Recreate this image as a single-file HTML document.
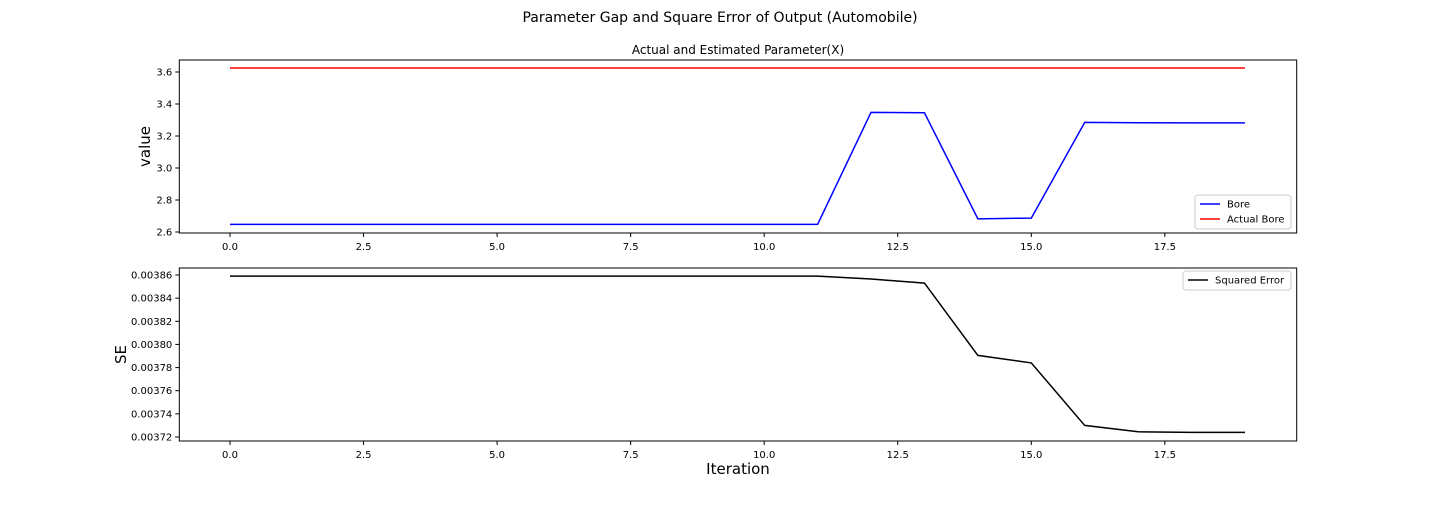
<!DOCTYPE html>
<html><head><meta charset="utf-8"><style>
body{margin:0;background:#fff;font-family:"Liberation Sans","DejaVu Sans",sans-serif}
svg text{font-family:"DejaVu Sans","Liberation Sans",sans-serif}
</style></head><body>
<svg id="chart" width="1440" height="504" xmlns="http://www.w3.org/2000/svg">
<rect width="1440" height="504" fill="#fff"/>
<text x="720" y="22" font-size="14" text-anchor="middle">Parameter Gap and Square Error of Output (Automobile)</text>
<text x="738" y="54" font-size="12" text-anchor="middle">Actual and Estimated Parameter(X)</text>
<g id="g1"></g><g id="g2"></g>
</svg>
<script>
const iterations=[0,1,2,3,4,5,6,7,8,9,10,11,12,13,14,15,16,17,18,19];
const bore=[2.648,2.648,2.648,2.648,2.648,2.648,2.648,2.648,2.648,2.648,2.648,2.648,3.348,3.345,2.682,2.687,3.285,3.283,3.282,3.282];
const actualBore=[3.625,3.625,3.625,3.625,3.625,3.625,3.625,3.625,3.625,3.625,3.625,3.625,3.625,3.625,3.625,3.625,3.625,3.625,3.625,3.625];
const squaredError=[0.003859,0.003859,0.003859,0.003859,0.003859,0.003859,0.003859,0.003859,0.003859,0.003859,0.003859,0.003859,0.0038565,0.003853,0.0037905,0.003784,0.003730,0.0037245,0.003724,0.003724];
const xTicks=[0,2.5,5,7.5,10,12.5,15,17.5];
const topYTicks=[2.6,2.8,3.0,3.2,3.4,3.6];
const botYTicks=[0.00372,0.00374,0.00376,0.00378,0.00380,0.00382,0.00384,0.00386];
const NS="http://www.w3.org/2000/svg";
function mk(p,t,a){const e=document.createElementNS(NS,t);for(const k in a)e.setAttribute(k,a[k]);p.appendChild(e);return e;}
const L=179.3,R=1296.7;
const xs=v=>230+v*53.42;
function panel(g,top,bot,y0v,y0p,y1v,y1p,yt,fmt,ylabel,series,legend,lx,ly,lw,xlabel,pfx){
  const ys=v=>y0p+(v-y0v)*(y1p-y0p)/(y1v-y0v);
  const fr=mk(g,'rect',{x:L,y:top,width:R-L,height:bot-top,fill:'none',stroke:'#000','stroke-width':1});
  
  
  xTicks.forEach(t=>{const x=xs(t);mk(g,'line',{x1:x,x2:x,y1:bot,y2:bot+4,stroke:'#000'});
    const tx=mk(g,'text',{x:x,y:bot+17,'font-size':10,'text-anchor':'middle'});tx.textContent=t.toFixed(1);
    
    });
  yt.forEach(t=>{const y=ys(t);mk(g,'line',{x1:L-4,x2:L,y1:y,y2:y,stroke:'#000'});
    const tx=mk(g,'text',{x:L-7,y:y+3.5,'font-size':10,'text-anchor':'end'});tx.textContent=fmt(t);
    
    });
  const yl=mk(g,'text',{x:0,y:0,'font-size':15,'text-anchor':'middle',transform:`translate(${pfx==='top'?150:126},${(top+bot)/2}) rotate(-90)`});yl.textContent=ylabel;
  
  
  if(xlabel){const xl=mk(g,'text',{x:738,y:474,'font-size':15,'text-anchor':'middle'});xl.textContent=xlabel;
    
    }
  series.forEach(s=>{const pl=mk(g,'polyline',{points:s.d.map((v,i)=>xs(iterations[i])+','+ys(v)).join(' '),fill:'none',stroke:s.c,'stroke-width':1.5});
    
    });
  const lg=mk(g,'rect',{x:lx,y:ly,width:lw,height:legend.length*15+4,fill:'#fff',stroke:'#ccc',rx:3});
  
  
  legend.forEach((e,i)=>{const y=ly+9+i*15;mk(g,'line',{x1:lx+5,x2:lx+25,y1:y,y2:y,stroke:e.c,'stroke-width':1.5});
    const t=mk(g,'text',{x:lx+32,y:y+3.5,'font-size':10});t.textContent=e.t;
    
    });
}
panel(document.getElementById('g1'),60,233,2.6,232,3.6,72,topYTicks,t=>t.toFixed(1),'value',
 [{d:bore,c:'#0000ff',n:'bore-line'},{d:actualBore,c:'#ff0000',n:'actual-bore-line'}],
 [{t:'Bore',c:'#0000ff'},{t:'Actual Bore',c:'#ff0000'}],1195,195,96,null,'top');
panel(document.getElementById('g2'),268,441,0.00372,437,0.00386,275,botYTicks,t=>t.toFixed(5),'SE',
 [{d:squaredError,c:'#000',n:'squared-error-line'}],
 [{t:'Squared Error',c:'#000'}],1183,271,108,'Iteration','bottom');
</script>
</body></html>
